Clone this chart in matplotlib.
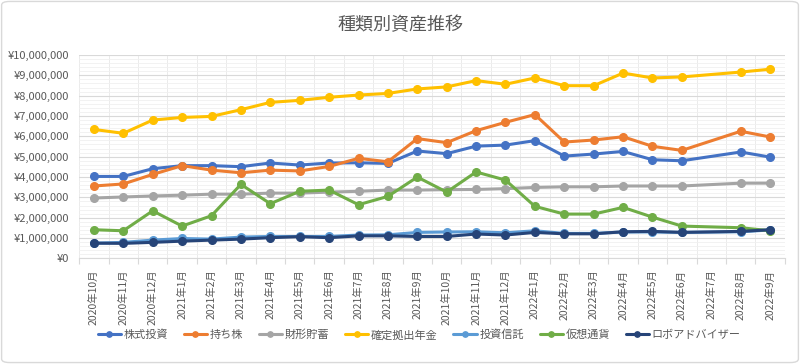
import numpy as np
import matplotlib
matplotlib.use("Agg")
import matplotlib.pyplot as plt
from matplotlib.ticker import FuncFormatter, MultipleLocator
from matplotlib.patches import FancyBboxPatch

plt.rcParams['font.family'] = ['Noto Sans CJK JP', 'DejaVu Sans']

title = "種類別資産推移"
months = ["2020年10月", "2020年11月", "2020年12月",
          "2021年1月", "2021年2月", "2021年3月", "2021年4月", "2021年5月", "2021年6月",
          "2021年7月", "2021年8月", "2021年9月", "2021年10月", "2021年11月", "2021年12月",
          "2022年1月", "2022年2月", "2022年3月", "2022年4月", "2022年5月", "2022年6月",
          "2022年7月", "2022年8月", "2022年9月"]

kabushiki = [4030000, 4030000, 4410000, 4560000, 4560000, 4510000, 4690000, 4590000,
             4690000, 4700000, 4670000, 5280000, 5150000, 5520000, 5570000, 5790000,
             5030000, 5130000, 5260000, 4850000, 4800000, None, 5230000, 4980000]
mochikabu = [3560000, 3660000, 4130000, 4560000, 4340000, 4210000, 4340000, 4300000,
             4520000, 4920000, 4750000, 5890000, 5690000, 6280000, 6690000, 7070000,
             5720000, 5820000, 5980000, 5510000, 5310000, None, 6250000, 5970000]
zaikei = [2970000, 3020000, 3070000, 3110000, 3160000, 3160000, 3210000, 3210000,
          3260000, 3300000, 3360000, 3360000, 3380000, 3390000, 3430000, 3490000,
          3520000, 3520000, 3560000, 3560000, 3560000, None, 3700000, 3700000]
kakutei = [6340000, 6150000, 6800000, 6930000, 6980000, 7310000, 7670000, 7770000,
           7920000, 8030000, 8110000, 8330000, 8430000, 8740000, 8560000, 8870000,
           8490000, 8490000, 9110000, 8870000, 8920000, None, 9160000, 9300000]
toushin = [750000, 790000, 900000, 980000, 950000, 1050000, 1080000, 1080000,
           1080000, 1150000, 1160000, 1280000, 1300000, 1310000, 1260000, 1360000,
           1230000, 1230000, 1300000, 1300000, 1280000, None, 1310000, 1400000]
kasou = [1410000, 1360000, 2340000, 1590000, 2100000, 3640000, 2690000, 3300000,
         3360000, 2640000, 3050000, 4000000, 3260000, 4250000, 3850000, 2560000,
         2180000, 2180000, 2510000, 2030000, 1590000, None, 1510000, 1360000]
roboad = [750000, 740000, 790000, 850000, 900000, 950000, 1020000, 1070000,
          1020000, 1110000, 1110000, 1080000, 1080000, 1200000, 1150000, 1280000,
          1210000, 1210000, 1310000, 1330000, 1280000, None, 1330000, 1410000]

series_names = ["株式投資", "持ち株", "財形貯蓄", "確定拠出年金", "投資信託", "仮想通貨", "ロボアドバイザー"]
series_values = [kabushiki, mochikabu, zaikei, kakutei, toushin, kasou, roboad]
colors = ["#4472C4", "#ED7D31", "#A5A5A5", "#FFC000", "#5B9BD5", "#70AD47", "#264478"]

text_color = "#595959"
grid_color = "#d9d9d9"

fig = plt.figure(figsize=(8, 3.64), dpi=100)
ax = fig.add_axes([0.099, 0.290, 0.882, 0.559])

x_all = np.arange(len(months))
for name, vals, c in zip(series_names, series_values, colors):
    xs = [x for x, v in zip(x_all, vals) if v is not None]
    ys = [v for v in vals if v is not None]
    ax.plot(xs, ys, color=c, lw=2.2, marker='o', ms=5.5, mec=c, mfc=c,
            label=name, solid_capstyle='round', zorder=3)

ax.set_xlim(-0.5, len(months) - 0.5)
ax.set_ylim(0, 10000000)
ax.yaxis.set_major_locator(MultipleLocator(1000000))
ax.yaxis.set_minor_locator(MultipleLocator(200000))
ax.yaxis.set_major_formatter(FuncFormatter(lambda v, p: "¥{:,.0f}".format(v)))

ax.set_xticks(x_all)
ax.set_xticklabels(months, rotation=90, fontsize=7.5, color=text_color)
ax.set_xticks(np.arange(-0.5, len(months)), minor=True)

ax.tick_params(axis='y', which='both', length=0, pad=7, labelsize=8, labelcolor=text_color)
ax.tick_params(axis='x', which='major', length=0, pad=8)
ax.tick_params(axis='x', which='minor', length=4, color=grid_color, width=0.8)

ax.grid(axis='y', which='major', color=grid_color, lw=0.8, zorder=0)
ax.grid(axis='y', which='minor', color="#f0f0f0", lw=0.6, zorder=0)
ax.grid(axis='x', which='minor', color="#e8e8e8", lw=0.6, zorder=0)
ax.grid(axis='x', which='major', visible=False)
ax.set_axisbelow(True)

for s in ['left', 'right', 'top']:
    ax.spines[s].set_visible(False)
ax.spines['bottom'].set_color(grid_color)
ax.spines['bottom'].set_linewidth(0.8)

fig.text(0.5, 1 - 25 / 364, title, ha='center', va='center', fontsize=13, color=text_color)

fig.legend(loc='center', bbox_to_anchor=(0.524, 1 - 335 / 364), ncol=7, frameon=False,
           fontsize=8, labelcolor=text_color, handlelength=2.1, handletextpad=0.25,
           columnspacing=1.4, markerscale=0.7)

border = FancyBboxPatch((0.002, 0.004), 0.996, 0.992, boxstyle="round,pad=0,rounding_size=0.01",
                        transform=fig.transFigure, fill=False, edgecolor=grid_color, lw=1.0)
fig.patches.append(border)

fig.savefig("out.png", dpi=100, facecolor="white")
